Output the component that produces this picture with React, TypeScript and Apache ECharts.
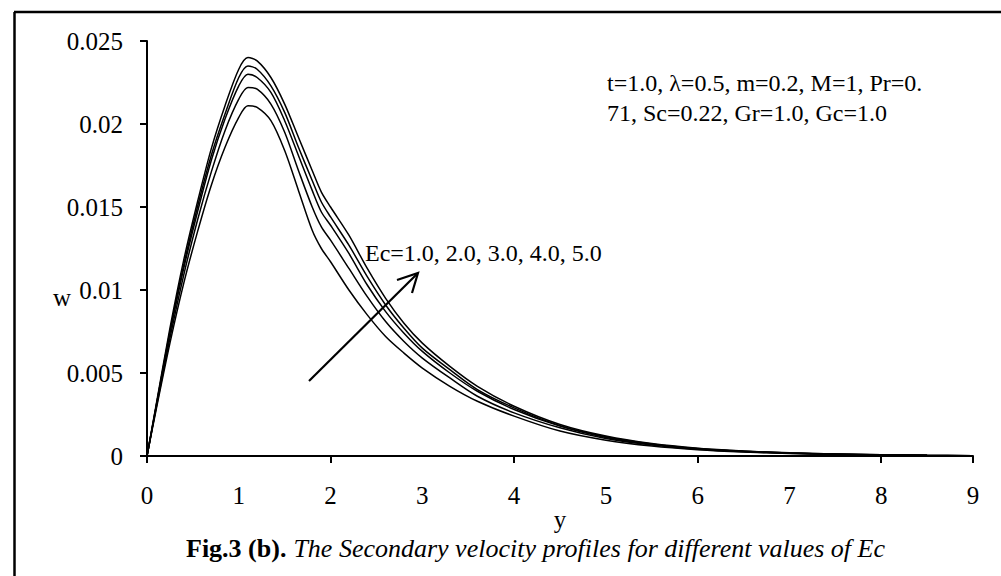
import React, { useEffect, useRef } from "react";
import * as echarts from "echarts";

const yPoints = [0, 0.1, 0.25, 0.4, 0.55, 0.7, 0.85, 1.0, 1.1, 1.2, 1.35, 1.5, 1.65, 1.8, 1.9, 2.0, 2.2, 2.4, 2.6, 2.8, 3.0, 3.3, 3.6, 4.0, 4.5, 5.0, 5.5, 6.0, 6.5, 7.0, 7.5, 8.0, 8.5, 9.0];

const wEc1 = [0, 0.0028, 0.0068, 0.0104, 0.0135, 0.0163, 0.0186, 0.0204, 0.0211, 0.021, 0.0202, 0.0184, 0.016, 0.0136, 0.0125, 0.0117, 0.01, 0.0085, 0.0072, 0.0062, 0.0053, 0.0042, 0.0033, 0.0024, 0.0015, 0.00095, 0.0006, 0.00038, 0.00024, 0.00015, 0.0001, 0.00006, 0.00003, 0.00001];
const wEc2 = [0, 0.0029, 0.0071, 0.0109, 0.0142, 0.0171, 0.0196, 0.0215, 0.0222, 0.0221, 0.0212, 0.0195, 0.0172, 0.015, 0.0138, 0.013, 0.0113, 0.0096, 0.0081, 0.0069, 0.0059, 0.0047, 0.0036, 0.0026, 0.0017, 0.00105, 0.00066, 0.00041, 0.00026, 0.00016, 0.00011, 0.00006, 0.00003, 0.00001];
const wEc3 = [0, 0.003, 0.0074, 0.0113, 0.0147, 0.0178, 0.0203, 0.0223, 0.023, 0.0228, 0.0219, 0.0202, 0.0181, 0.016, 0.0147, 0.0139, 0.0122, 0.0103, 0.0087, 0.0074, 0.0063, 0.005, 0.0039, 0.0028, 0.0018, 0.00112, 0.0007, 0.00044, 0.00028, 0.00018, 0.00011, 0.00007, 0.00004, 0.00002];
const wEc4 = [0, 0.003, 0.0075, 0.0115, 0.015, 0.0181, 0.0206, 0.0228, 0.0235, 0.0233, 0.0223, 0.0207, 0.0186, 0.0166, 0.0153, 0.0144, 0.0127, 0.0108, 0.0091, 0.0077, 0.0065, 0.0052, 0.004, 0.0029, 0.00183, 0.00116, 0.00072, 0.00045, 0.00029, 0.00018, 0.00012, 0.00007, 0.00004, 0.00002];
const wEc5 = [0, 0.0031, 0.0077, 0.0118, 0.0153, 0.0185, 0.0211, 0.0233, 0.024, 0.0238, 0.0228, 0.0212, 0.0192, 0.0172, 0.0159, 0.015, 0.0133, 0.0113, 0.0095, 0.008, 0.0068, 0.0054, 0.0042, 0.003, 0.0019, 0.0012, 0.00075, 0.00047, 0.0003, 0.00019, 0.00012, 0.00007, 0.00004, 0.00002];

const seriesNames = ["Ec=1.0", "Ec=2.0", "Ec=3.0", "Ec=4.0", "Ec=5.0"];
const seriesValues = [wEc1, wEc2, wEc3, wEc4, wEc5];

const xTickLabels = ["0", "1", "2", "3", "4", "5", "6", "7", "8", "9"];
const yTickLabels = ["0", "0.005", "0.01", "0.015", "0.02", "0.025"];

const FONT = "'Liberation Serif', 'Times New Roman', serif";

export default function App() {
  const ref = useRef<HTMLDivElement>(null);

  useEffect(() => {
    if (!ref.current) return;
    const chart = echarts.init(ref.current, null, { renderer: "svg" });

    const series = seriesValues.map((vals, i) => ({
      name: seriesNames[i],
      type: "line",
      xAxisIndex: 0,
      yAxisIndex: 0,
      data: yPoints.map((x, j) => [x, vals[j]]),
      symbol: "none",
      smooth: 0.3,
      lineStyle: { color: "#000", width: 1.5 },
      silent: true,
    }));

    chart.setOption({
      animation: false,
      backgroundColor: "#fff",
      grid: { left: 147, right: 28, top: 41, bottom: 120 },
      xAxis: [
        {
          type: "value",
          min: 0,
          max: 9,
          interval: 1,
          position: "bottom",
          axisLine: { show: true, lineStyle: { color: "#000", width: 2 } },
          axisTick: { show: false },
          splitLine: { show: false },
          axisLabel: {
            color: "#000",
            fontFamily: FONT,
            fontSize: 25,
            margin: 27,
            formatter: (v: number) => xTickLabels[Math.round(v)] ?? "",
          },
        },
        {
          type: "value",
          min: 0,
          max: 9,
          interval: 2,
          position: "bottom",
          axisLine: { show: false },
          axisTick: { show: true, length: 7, lineStyle: { color: "#000", width: 2 } },
          splitLine: { show: false },
          axisLabel: { show: false },
        },
      ],
      yAxis: {
        type: "value",
        min: 0,
        max: 0.025,
        interval: 0.005,
        axisLine: { show: true, lineStyle: { color: "#000", width: 2 } },
        axisTick: { show: true, length: 7, lineStyle: { color: "#000", width: 2 } },
        splitLine: { show: false },
        axisLabel: {
          color: "#000",
          fontFamily: FONT,
          fontSize: 25,
          margin: 24,
          formatter: (v: number) => yTickLabels[Math.round(v / 0.005)] ?? "",
        },
      },
      series,
      graphic: [
        { type: "line", shape: { x1: 14.5, y1: 12, x2: 14.5, y2: 576 }, style: { stroke: "#000", lineWidth: 2.5 } },
        { type: "line", shape: { x1: 14, y1: 12, x2: 1001, y2: 12 }, style: { stroke: "#000", lineWidth: 2.5 } },
        {
          type: "text",
          x: 607,
          y: 83,
          style: { text: "t=1.0, λ=0.5, m=0.2, M=1, Pr=0.", font: `24px ${FONT}`, fill: "#000", textVerticalAlign: "middle" },
        },
        {
          type: "text",
          x: 607,
          y: 113,
          style: { text: "71, Sc=0.22, Gr=1.0, Gc=1.0", font: `24px ${FONT}`, fill: "#000", textVerticalAlign: "middle" },
        },
        {
          type: "text",
          x: 365,
          y: 253,
          style: { text: "Ec=1.0, 2.0, 3.0, 4.0, 5.0", font: `24px ${FONT}`, fill: "#000", textVerticalAlign: "middle" },
        },
        {
          type: "text",
          x: 62,
          y: 297,
          style: { text: "w", font: `25px ${FONT}`, fill: "#000", textAlign: "center", textVerticalAlign: "middle" },
        },
        {
          type: "text",
          x: 560,
          y: 519,
          style: { text: "y", font: `25px ${FONT}`, fill: "#000", textAlign: "center", textVerticalAlign: "middle" },
        },
        { type: "line", shape: { x1: 309, y1: 381, x2: 417, y2: 274 }, style: { stroke: "#000", lineWidth: 2.2 } },
        {
          type: "polyline",
          shape: { points: [[397, 280], [418, 273], [412, 293]] },
          style: { stroke: "#000", lineWidth: 2.2, fill: null },
        },
        {
          type: "text",
          x: 186,
          y: 548,
          style: {
            text: "{b|Fig.3 (b).}{s| }{i|The Secondary velocity profiles for different values of Ec}",
            rich: {
              b: { font: `bold 26px ${FONT}`, fill: "#000", lineHeight: 26 },
              s: { font: `26px ${FONT}`, fill: "#000", width: 7, lineHeight: 26 },
              i: { font: `italic 26px ${FONT}`, fill: "#000", lineHeight: 26 },
            },
            textVerticalAlign: "middle",
          },
        },
      ],
    });

    return () => chart.dispose();
  }, []);

  return (
    <div
      ref={ref}
      style={{ position: "fixed", left: 0, top: 0, width: 1001, height: 576, background: "#fff" }}
    />
  );
}
